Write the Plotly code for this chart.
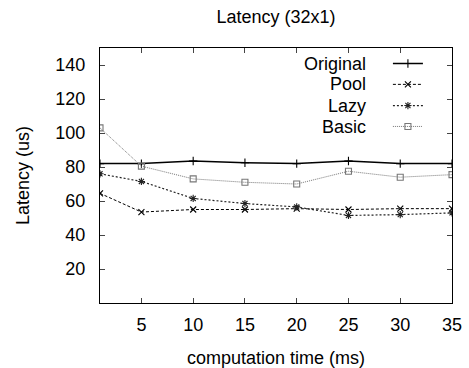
import plotly.graph_objects as go

x_vals = [1, 5, 10, 15, 20, 25, 30, 35]
original = [82, 82, 83.5, 82.5, 82, 83.5, 82, 82]
pool = [64.5, 53.5, 55, 55, 55.5, 55, 55.5, 55.5]
lazy = [76, 71.5, 61.5, 58.5, 56.5, 51.5, 52, 53]
basic = [103, 80.5, 73, 71, 70, 77.5, 74, 75.5]

names = ["Original", "Pool", "Lazy", "Basic"]
series = [original, pool, lazy, basic]
colors = ["#000000", "#000000", "#222222", "#777777"]
dashes = ["solid", "3px,2px", "2px,2px", "1px,1px"]
symbols = ["cross-thin-open", "x-thin-open", "asterisk-open", "square-open"]
widths = [1.5, 1, 1.2, 1]

y_ticks = [20, 40, 60, 80, 100, 120, 140]
x_ticks = [5, 10, 15, 20, 25, 30, 35]

legend_ids = ["legend", "legend2", "legend3", "legend4"]

fig = go.Figure()
for n, s, c, d, sym, w, lg in zip(names, series, colors, dashes, symbols, widths, legend_ids):
    fig.add_trace(go.Scatter(
        x=x_vals, y=s, mode="lines+markers", name=" ",
        line=dict(color=c, dash=d, width=w),
        marker=dict(symbol=sym, size=6, color=c, line=dict(color=c, width=1.1)),
        showlegend=True, legend=lg,
    ))

font_family = "Liberation Sans, Arial, sans-serif"

# legend rows: text right-aligned, glyph to its right (gnuplot style)
row_y = [0.939, 0.857, 0.774, 0.692]
annotations = []
legends = {}
for n, yy, lg in zip(names, row_y, legend_ids):
    annotations.append(dict(
        text=n, x=0.761, y=yy, xref="paper", yref="paper",
        xanchor="right", yanchor="middle", showarrow=False,
        font=dict(size=18, color="black", family=font_family),
    ))
    legends[lg] = dict(x=0.96, xanchor="right", y=yy, yanchor="middle",
                       bgcolor="rgba(0,0,0,0)", font=dict(size=16),
                       itemwidth=30)

fig.update_layout(
    width=469, height=368,
    margin=dict(l=100, r=17, t=48, b=65),
    paper_bgcolor="white", plot_bgcolor="white",
    font=dict(family=font_family, size=18, color="black"),
    title=dict(text="Latency (32x1)", x=0.5, xref="paper", y=1 - 17 / 368,
               yref="container", xanchor="center", yanchor="middle",
               font=dict(size=18)),
    showlegend=True,
    annotations=annotations,
    xaxis=dict(range=[1, 35], tickvals=x_ticks, ticks="inside", ticklen=5,
               mirror="allticks", showline=True, linecolor="black", linewidth=1,
               showgrid=False, zeroline=False, tickfont=dict(size=18),
               ticklabelstandoff=5, automargin=False,
               title=dict(text="computation time (ms)", font=dict(size=18), standoff=17)),
    yaxis=dict(range=[0, 150], tickvals=y_ticks, ticks="inside", ticklen=5,
               mirror="allticks", showline=True, linecolor="black", linewidth=1,
               showgrid=False, zeroline=False, tickfont=dict(size=18),
               ticklabelstandoff=10, automargin=False,
               title=dict(text="Latency (us)", font=dict(size=18), standoff=21)),
    **legends,
)

fig.write_html("out.html")
